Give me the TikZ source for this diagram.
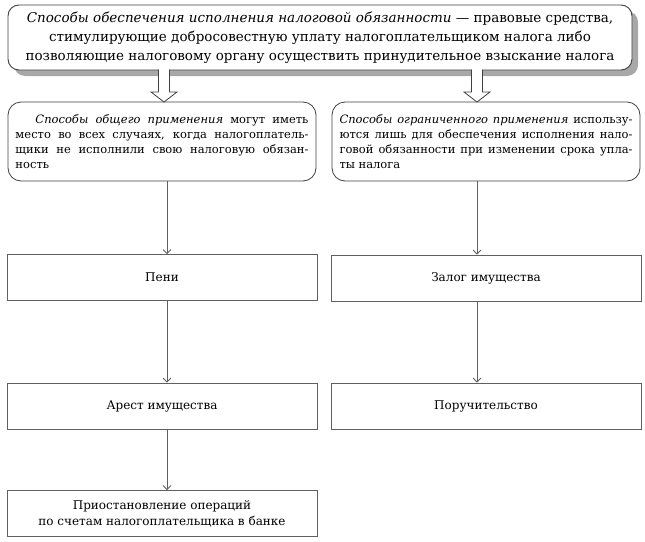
\documentclass[tikz,border=0pt]{standalone}
\usepackage{fontspec}
\setmainfont{DejaVu Serif}
\usetikzlibrary{shadows,calc,arrows.meta}
\definecolor{edge}{HTML}{404040}
\definecolor{conn}{HTML}{606060}
\definecolor{shade}{HTML}{A8A8A8}
\tikzset{
  topbox/.style={draw=edge, line width=0.9pt, rounded corners=11pt, fill=white,
    minimum width=624pt, minimum height=65pt, inner sep=0pt, align=center,
    font=\fontsize{13.5}{19}\selectfont,
    drop shadow={shadow xshift=6pt, shadow yshift=-6pt, fill=shade, opacity=1}},
  roundbox/.style={draw=edge, line width=0.8pt, rounded corners=13pt, fill=white,
    minimum width=308pt, minimum height=79pt, inner sep=0pt, text width=293pt,
    align=justify, font=\fontsize{11.5}{15}\selectfont},
  rectbox/.style={draw=conn, line width=0.7pt, fill=white,
    minimum width=310pt, minimum height=46pt, inner sep=0pt, align=center,
    font=\fontsize{12}{16}\selectfont},
  connline/.style={draw=conn, line width=0.7pt,
    -{Straight Barb[length=4pt,width=8pt,line width=0.9pt]}},
  hollowarrow/.style={draw=edge, line width=0.8pt, fill=white, line join=miter}
}
\begin{document}
\begin{tikzpicture}[x=1pt,y=-1pt]
\useasboundingbox (0,0) rectangle (645,541);

\node[topbox] (top) at (320,37.5) {\textit{Способы обеспечения исполнения налоговой обязанности} — правовые средства,\\
стимулирующие добросовестную уплату налогоплательщиком налога либо\\
позволяющие налоговому органу осуществить принудительное взыскание налога};

\node[roundbox] (lb) at (162,141.5) {\hspace*{20pt}\textit{Способы общего применения} могут иметь\linebreak
место во всех случаях, когда налогоплатель-\linebreak
щики не исполнили свою налоговую обязан-\linebreak
ность};

\node[roundbox] (rb) at (486,141.5) {\textit{Способы ограниченного применения} использу-\linebreak
ются лишь для обеспечения исполнения нало-\linebreak
говой обязанности при изменении срока упла-\linebreak
ты налога};

\node[rectbox] (peni) at (162,277.5) {Пени};
\node[rectbox] (arest) at (162,406) {Арест имущества};
\node[rectbox] (priost) at (162,513.5) {Приостановление операций\\по счетам налогоплательщика в банке};
\node[rectbox] (zalog) at (486,278) {Залог имущества};
\node[rectbox] (poruch) at (486,406) {Поручительство};

% hollow block arrows
\coordinate (a1) at (164,69.5);
\coordinate (a2) at (477,69.5);
\foreach \c in {a1,a2}{
  \path[hollowarrow] (\c) ++(-5.5,0) -- ++(0,22.5) -- ++(-7.5,0) -- ++(13,10) -- ++(13,-10) -- ++(-7.5,0) -- ++(0,-22.5);
  \fill[white] (\c) ++(-5.1,-0.5) rectangle ++(10.2,2);
}

% connectors
\coordinate (lc) at (167,0);
\coordinate (rc) at (477,0);
\draw[connline] (lb.south -| lc) -- (peni.north -| lc);
\draw[connline] (peni.south -| lc) -- (arest.north -| lc);
\draw[connline] (arest.south -| lc) -- (priost.north -| lc);
\draw[connline] (rb.south -| rc) -- (zalog.north -| rc);
\draw[connline] (zalog.south -| rc) -- (poruch.north -| rc);
\end{tikzpicture}
\end{document}
